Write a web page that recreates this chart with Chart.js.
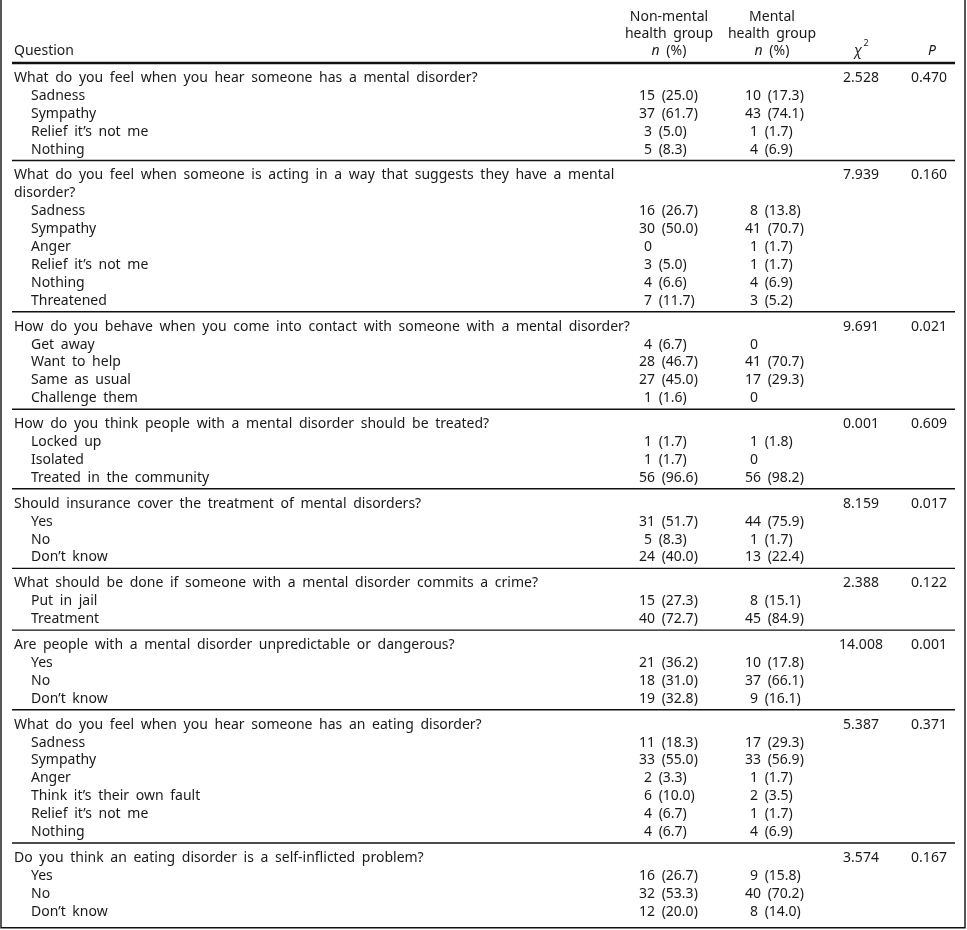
<!DOCTYPE html>
<html>
<head>
<meta charset="utf-8">
<script src="https://cdn.jsdelivr.net/npm/chart.js@4.4.1/dist/chart.umd.min.js"></script>
<style>
  body { margin: 0; background: #fff; }
  canvas { display: block; }
</style>
</head>
<body>
<canvas id="tabla" width="967" height="930"></canvas>
<script>
// Preguntas (la segunda viene partida en dos líneas como en el original)
const questionLines = [
    ["What do you feel when you hear someone has a mental disorder?"],
    ["What do you feel when someone is acting in a way that suggests they have a mental", "disorder?"],
    ["How do you behave when you come into contact with someone with a mental disorder?"],
    ["How do you think people with a mental disorder should be treated?"],
    ["Should insurance cover the treatment of mental disorders?"],
    ["What should be done if someone with a mental disorder commits a crime?"],
    ["Are people with a mental disorder unpredictable or dangerous?"],
    ["What do you feel when you hear someone has an eating disorder?"],
    ["Do you think an eating disorder is a self-inflicted problem?"]
];

const answers = [
    ["Sadness", "Sympathy", "Relief it’s not me", "Nothing"],
    ["Sadness", "Sympathy", "Anger", "Relief it’s not me", "Nothing", "Threatened"],
    ["Get away", "Want to help", "Same as usual", "Challenge them"],
    ["Locked up", "Isolated", "Treated in the community"],
    ["Yes", "No", "Don’t know"],
    ["Put in jail", "Treatment"],
    ["Yes", "No", "Don’t know"],
    ["Sadness", "Sympathy", "Anger", "Think it’s their own fault", "Relief it’s not me", "Nothing"],
    ["Yes", "No", "Don’t know"]
];

// Grupo sin salud mental: n y %
const nonMentalN = [
    [15, 37, 3, 5],
    [16, 30, 0, 3, 4, 7],
    [4, 28, 27, 1],
    [1, 1, 56],
    [31, 5, 24],
    [15, 40],
    [21, 18, 19],
    [11, 33, 2, 6, 4, 4],
    [16, 32, 12]
];
const nonMentalPct = [
    [25.0, 61.7, 5.0, 8.3],
    [26.7, 50.0, null, 5.0, 6.6, 11.7],
    [6.7, 46.7, 45.0, 1.6],
    [1.7, 1.7, 96.6],
    [51.7, 8.3, 40.0],
    [27.3, 72.7],
    [36.2, 31.0, 32.8],
    [18.3, 55.0, 3.3, 10.0, 6.7, 6.7],
    [26.7, 53.3, 20.0]
];

// Grupo de salud mental: n y %
const mentalN = [
    [10, 43, 1, 4],
    [8, 41, 1, 1, 4, 3],
    [0, 41, 17, 0],
    [1, 0, 56],
    [44, 1, 13],
    [8, 45],
    [10, 37, 9],
    [17, 33, 1, 2, 1, 4],
    [9, 40, 8]
];
const mentalPct = [
    [17.3, 74.1, 1.7, 6.9],
    [13.8, 70.7, 1.7, 1.7, 6.9, 5.2],
    [null, 70.7, 29.3, null],
    [1.8, null, 98.2],
    [75.9, 1.7, 22.4],
    [15.1, 84.9],
    [17.8, 66.1, 16.1],
    [29.3, 56.9, 1.7, 3.5, 1.7, 6.9],
    [15.8, 70.2, 14.0]
];

const chiSquare = [2.528, 7.939, 9.691, 0.001, 8.159, 2.388, 14.008, 5.387, 3.574];
const pValues = [0.470, 0.160, 0.021, 0.609, 0.017, 0.122, 0.001, 0.371, 0.167];

const headerNonMental = ["Non-mental", "health group"];
const headerMental = ["Mental", "health group"];
const headerQuestion = "Question";

// Disposición: eje y en unidades de renglón
const ROW_PX = 17.9;
const CANVAS_H = 930;
const FIRST_ROW_PX = 78;
const GROUP_GAP = 8 / ROW_PX;
const RULE_ABOVE = 15 / ROW_PX;
const yMin = -FIRST_ROW_PX / ROW_PX;
const yMax = yMin + CANVAS_H / ROW_PX;

const COL = { question: 14, answer: 31, nonMental: 639, mental: 745, nonMentalHead: 669, mentalHead: 772, chi: 861, p: 929, ruleL: 12, ruleR: 955, frameL: 1, frameR: 965 };
const FONT = '"Noto Sans", sans-serif';
const TEXT_COLOR = "#1a1a1a";

// Construir renglones a partir de los datos
const rows = [];
const rules = [];
let cursor = 0;
questionLines.forEach((lines, g) => {
    rules.push(cursor - RULE_ABOVE);
    lines.forEach((text, i) => {
        rows.push({ y: cursor, kind: "q", text, chi: i === 0 ? chiSquare[g] : null, p: i === 0 ? pValues[g] : null });
        cursor++;
    });
    answers[g].forEach((text, i) => {
        rows.push({ y: cursor, kind: "a", text, n1: nonMentalN[g][i], p1: nonMentalPct[g][i], n2: mentalN[g][i], p2: mentalPct[g][i] });
        cursor++;
    });
    cursor += GROUP_GAP;
});
const lastRow = cursor - GROUP_GAP - 1;
const frameBottom = lastRow + 16 / ROW_PX;

function cellText(n, pct) {
    return pct === null ? String(n) : `${n} (${pct.toFixed(1)})`;
}

// Plugin que escribe los textos de la tabla usando las escalas
const tablePlugin = {
    id: "tableText",
    afterDatasetsDraw(chart) {
        const ctx = chart.ctx;
        const xs = chart.scales.x;
        const ys = chart.scales.y;
        const X = v => xs.getPixelForValue(v);
        const Y = v => ys.getPixelForValue(v);
        ctx.save();
        ctx.fillStyle = TEXT_COLOR;
        ctx.textBaseline = "middle";
        const plain = `14px ${FONT}`;
        const italic = `italic 14px ${FONT}`;
        ctx.font = plain;
        ctx.wordSpacing = "3px";

        // Encabezado
        const h1 = -3.39, h2 = -2.44, h3 = -1.5;
        ctx.textAlign = "left";
        ctx.fillText(headerQuestion, X(COL.question), Y(h3));
        ctx.textAlign = "center";
        ctx.fillText(headerNonMental[0], X(COL.nonMentalHead), Y(h1));
        ctx.fillText(headerNonMental[1], X(COL.nonMentalHead), Y(h2));
        ctx.fillText(headerMental[0], X(COL.mentalHead), Y(h1));
        ctx.fillText(headerMental[1], X(COL.mentalHead), Y(h2));
        [COL.nonMentalHead, COL.mentalHead].forEach(cx => {
            ctx.font = italic;
            const wn = ctx.measureText("n").width;
            ctx.font = plain;
            const wr = ctx.measureText(" (%)").width;
            const left = X(cx) - (wn + wr) / 2;
            ctx.textAlign = "left";
            ctx.font = italic;
            ctx.fillText("n", left, Y(h3));
            ctx.font = plain;
            ctx.fillText(" (%)", left + wn, Y(h3));
        });
        ctx.font = italic;
        ctx.textAlign = "center";
        ctx.fillText("χ", X(COL.chi) - 3, Y(h3));
        ctx.fillText("P", X(COL.p) + 3, Y(h3));
        ctx.font = `9px ${FONT}`;
        ctx.fillText("2", X(COL.chi) + 5, Y(h3) - 8);

        // Cuerpo
        ctx.font = plain;
        rows.forEach(r => {
            const py = Y(r.y);
            ctx.textAlign = "left";
            if (r.kind === "q") {
                ctx.fillText(r.text, X(COL.question), py);
                if (r.chi !== null) {
                    ctx.textAlign = "center";
                    ctx.fillText(r.chi.toFixed(3), X(COL.chi), py);
                    ctx.fillText(r.p.toFixed(3), X(COL.p), py);
                }
            } else {
                ctx.fillText(r.text, X(COL.answer), py);
                ctx.fillText(cellText(r.n1, r.p1), X(COL.nonMental + (r.n1 < 10 ? 5 : 0)), py);
                ctx.fillText(cellText(r.n2, r.p2), X(COL.mental + (r.n2 < 10 ? 5 : 0)), py);
            }
        });
        ctx.restore();
    }
};

// Líneas de separación y marco como datasets
const ruleSets = rules.map((ry, i) => ({
    data: [{ x: COL.ruleL, y: ry }, { x: COL.ruleR, y: ry }],
    borderColor: "#111",
    borderWidth: i === 0 ? 2.6 : 1.4,
    pointRadius: 0,
    showLine: true
}));
const frameSet = {
    data: [{ x: COL.frameL, y: yMin }, { x: COL.frameL, y: frameBottom }, { x: COL.frameR, y: frameBottom }, { x: COL.frameR, y: yMin }],
    borderColor: "#111",
    borderWidth: 1.4,
    pointRadius: 0,
    showLine: true,
    clip: false
};

new Chart(document.getElementById("tabla"), {
    type: "scatter",
    data: { datasets: [...ruleSets, frameSet] },
    options: {
        responsive: false,
        animation: false,
        layout: { padding: 0 },
        plugins: { legend: { display: false }, tooltip: { enabled: false } },
        scales: {
            x: { type: "linear", min: 0, max: 967, display: false },
            y: { type: "linear", min: yMin, max: yMax, reverse: true, display: false }
        }
    },
    plugins: [tablePlugin]
});
</script>
</body>
</html>
